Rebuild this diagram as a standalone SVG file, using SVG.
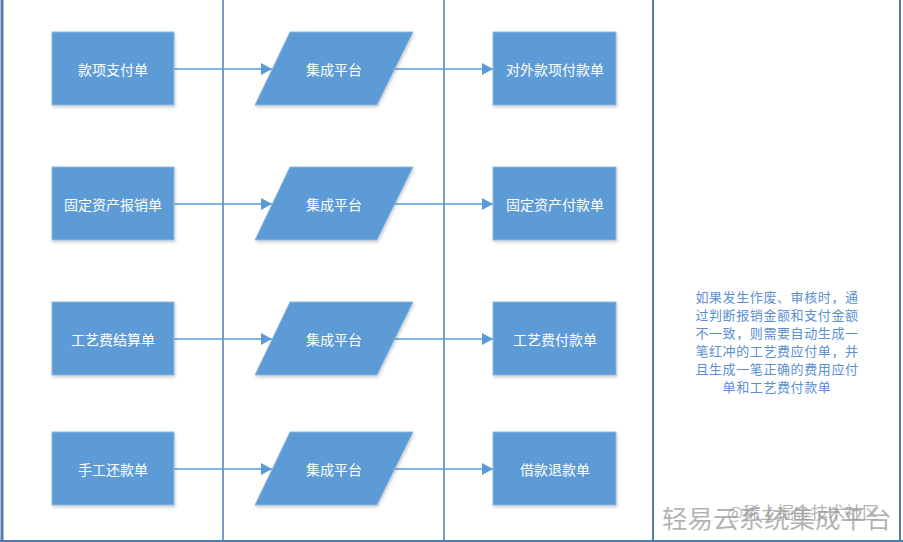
<svg xmlns="http://www.w3.org/2000/svg" width="903" height="542" viewBox="0 0 903 542">
<defs>
<filter id="sh" x="-10%" y="-10%" width="125%" height="130%">
<feDropShadow dx="1" dy="2" stdDeviation="1.5" flood-color="#000" flood-opacity="0.18"/>
</filter>
<marker id="ah" markerWidth="12" markerHeight="12" refX="11" refY="6" orient="auto" markerUnits="userSpaceOnUse">
<path d="M0,0 L11,6 L0,12 Z" fill="#5b9bd5"/>
</marker>
</defs>
<style>
.bx{fill:#5b9bd5;stroke:#8fb7e0;stroke-width:1;filter:url(#sh)}
.t{font-family:"Noto Sans CJK SC","Noto Sans",sans-serif;font-size:14px;fill:#ffffff;text-anchor:middle;dominant-baseline:central}
.ln{stroke:#5b9bd5;stroke-width:1.5;fill:none}
.lane{stroke:#4f7cad;fill:none}
.note{font-family:"Noto Sans CJK SC","Noto Sans",sans-serif;font-size:13px;letter-spacing:0.6px;fill:#5b8fd0;text-anchor:middle}
.wm{font-family:"Noto Sans CJK SC","Noto Sans",sans-serif;fill:#9a9a9a;fill-opacity:0.75}
</style>
<rect width="903" height="542" fill="#ffffff"/>
<g id="lanes">
<line class="lane" x1="2" y1="0" x2="2" y2="542" stroke-width="3"/>
<line class="lane" x1="223" y1="0" x2="223" y2="542" stroke-width="1.5"/>
<line class="lane" x1="444" y1="0" x2="444" y2="542" stroke-width="1.5"/>
<line class="lane" x1="653" y1="0" x2="653" y2="542" stroke-width="2"/>
<line class="lane" x1="900" y1="0" x2="900" y2="542" stroke-width="2"/>
<line class="lane" x1="0" y1="541" x2="903" y2="541" stroke-width="2"/>
</g>
<g id="connectors">
<line class="ln" x1="174" y1="69" x2="272" y2="69" marker-end="url(#ah)"/>
<line class="ln" x1="395" y1="69" x2="493" y2="69" marker-end="url(#ah)"/>
<line class="ln" x1="174" y1="204" x2="272" y2="204" marker-end="url(#ah)"/>
<line class="ln" x1="395" y1="204" x2="493" y2="204" marker-end="url(#ah)"/>
<line class="ln" x1="174" y1="339" x2="272" y2="339" marker-end="url(#ah)"/>
<line class="ln" x1="395" y1="339" x2="493" y2="339" marker-end="url(#ah)"/>
<line class="ln" x1="174" y1="469" x2="272" y2="469" marker-end="url(#ah)"/>
<line class="ln" x1="395" y1="469" x2="493" y2="469" marker-end="url(#ah)"/>
</g>
<g id="n1a"><rect class="bx" x="52" y="32" width="122" height="73"/><text class="t" x="113" y="68.5">款项支付单</text></g>
<g id="n1b"><polygon class="bx" points="290,32 413,32 377,105 255,105"/><text class="t" x="334" y="68.5">集成平台</text></g>
<g id="n1c"><rect class="bx" x="493" y="32" width="123" height="73"/><text class="t" x="555" y="68.5">对外款项付款单</text></g>
<g id="n2a"><rect class="bx" x="52" y="167" width="122" height="73"/><text class="t" x="113" y="203.5">固定资产报销单</text></g>
<g id="n2b"><polygon class="bx" points="290,167 413,167 377,240 255,240"/><text class="t" x="334" y="203.5">集成平台</text></g>
<g id="n2c"><rect class="bx" x="493" y="167" width="123" height="73"/><text class="t" x="555" y="203.5">固定资产付款单</text></g>
<g id="n3a"><rect class="bx" x="52" y="302" width="122" height="73"/><text class="t" x="113" y="338.5">工艺费结算单</text></g>
<g id="n3b"><polygon class="bx" points="290,302 413,302 377,375 255,375"/><text class="t" x="334" y="338.5">集成平台</text></g>
<g id="n3c"><rect class="bx" x="493" y="302" width="123" height="73"/><text class="t" x="555" y="338.5">工艺费付款单</text></g>
<g id="n4a"><rect class="bx" x="52" y="432" width="122" height="73"/><text class="t" x="113" y="468.5">手工还款单</text></g>
<g id="n4b"><polygon class="bx" points="290,432 413,432 377,505 255,505"/><text class="t" x="334" y="468.5">集成平台</text></g>
<g id="n4c"><rect class="bx" x="493" y="432" width="123" height="73"/><text class="t" x="555" y="468.5">借款退款单</text></g>
<g id="note">
<text class="note" x="777" y="302">如果发生作废、审核时，通</text>
<text class="note" x="777" y="320">过判断报销金额和支付金额</text>
<text class="note" x="777" y="338">不一致，则需要自动生成一</text>
<text class="note" x="777" y="356">笔红冲的工艺费应付单，并</text>
<text class="note" x="777" y="374">且生成一笔正确的费用应付</text>
<text class="note" x="777" y="392">单和工艺费付款单</text>
</g>
<g id="watermark">
<text class="wm" x="662" y="528" font-size="25.5">轻易云系统集成平台</text>
<text class="wm" x="727" y="519" font-size="17">@稀土掘金技术社区</text>
</g>
</svg>
